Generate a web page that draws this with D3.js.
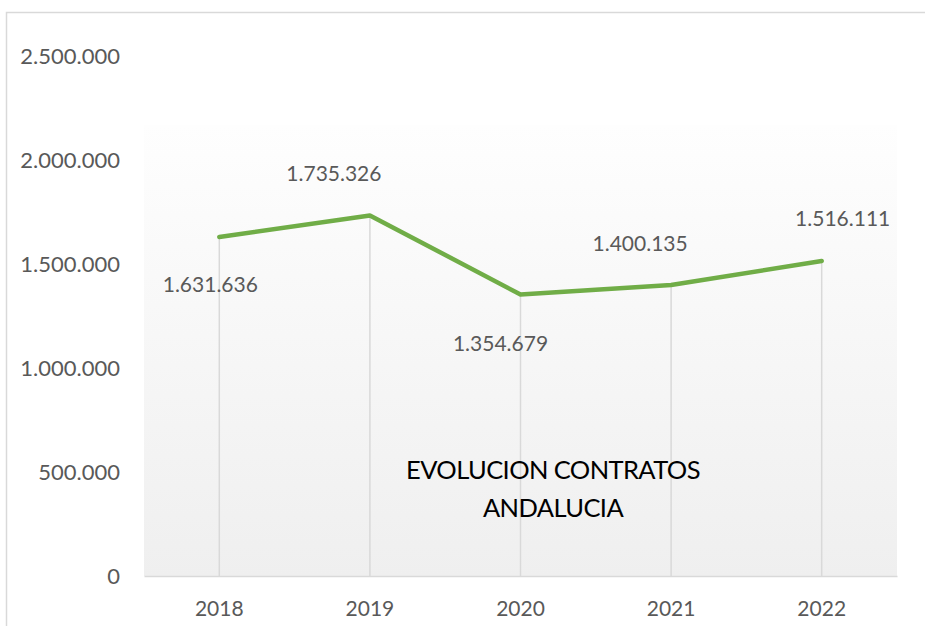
<!DOCTYPE html>
<html>
<head>
<meta charset="utf-8">
<script src="https://cdn.jsdelivr.net/npm/d3@7"></script>
<style>
  html, body { margin: 0; padding: 0; background: #ffffff; }
  svg { display: block; }
</style>
</head>
<body>
<svg id="chart" width="925" height="626"></svg>
<script>
// Contratos registrados en Andalucía por año
const years = ["2018", "2019", "2020", "2021", "2022"];
const contratos = [1631636, 1735326, 1354679, 1400135, 1516111];
const yTicks = [0, 500000, 1000000, 1500000, 2000000, 2500000];
const titleLines = ["EVOLUCION CONTRATOS", "ANDALUCIA"];

// Label placement around each point (dx, dy of the text baseline centre)
const labelOffsets = [[-9, 55], [-36, -34], [-20, 57], [-31, -34], [21, -35]];

const W = 925, H = 626;
const plot = { left: 144, right: 897, top: 125, bottom: 576 };
const FONT = "Lato, 'Open Sans', sans-serif";

const svg = d3.select("#chart");

// Number format with dots as thousands separators
const esLocale = d3.formatLocale({ decimal: ",", thousands: ".", grouping: [3], currency: ["", " €"] });
const fmt = esLocale.format(",d");

const x = d3.scaleBand().domain(years).range([plot.left, plot.right]);
const y = d3.scaleLinear().domain([0, 2500000]).range([plot.bottom, 56.5]);
const cx = d => x(d) + x.bandwidth() / 2;

// Chart frame
svg.append("rect")
  .attr("x", 6.5).attr("y", 12.5)
  .attr("width", W).attr("height", H)
  .attr("fill", "none").attr("stroke", "#d9d9d9").attr("stroke-width", 1.5);

// Plot area gradient fill
const defs = svg.append("defs");
const grad = defs.append("linearGradient").attr("id", "plotGrad")
  .attr("x1", 0).attr("y1", 0).attr("x2", 0).attr("y2", 1);
grad.append("stop").attr("offset", "0%").attr("stop-color", "#fefefe");
grad.append("stop").attr("offset", "100%").attr("stop-color", "#efefef");

svg.append("rect")
  .attr("x", plot.left).attr("y", plot.top)
  .attr("width", plot.right - plot.left).attr("height", plot.bottom - plot.top)
  .attr("fill", "url(#plotGrad)");

// Y axis (labels only)
const yAxis = d3.axisLeft(y).tickValues(yTicks).tickFormat(v => fmt(v)).tickSize(0).tickPadding(0);
const gy = svg.append("g").attr("transform", "translate(120,0)").call(yAxis);
gy.select(".domain").remove();
gy.selectAll("text")
  .attr("font-family", FONT).attr("font-size", 22).attr("fill", "#595959");

// X axis baseline and year labels
const xAxis = d3.axisBottom(x).tickSize(0).tickPadding(0);
const gx = svg.append("g").attr("transform", `translate(0,${plot.bottom})`).call(xAxis);
gx.select(".domain").attr("stroke", "#d9d9d9").attr("stroke-width", 1.5);
gx.selectAll("text")
  .attr("font-family", FONT).attr("font-size", 21).attr("fill", "#595959")
  .attr("dy", null).attr("y", 40);

// Drop lines from each point to the baseline
svg.append("g").selectAll("line")
  .data(years)
  .join("line")
  .attr("x1", d => cx(d)).attr("x2", d => cx(d))
  .attr("y1", (d, i) => y(contratos[i])).attr("y2", plot.bottom)
  .attr("stroke", "#d9d9d9").attr("stroke-width", 1.5);

// Title inside the plot
svg.append("g").selectAll("text")
  .data(titleLines)
  .join("text")
  .attr("x", 553).attr("y", (d, i) => 479 + i * 38)
  .attr("text-anchor", "middle")
  .attr("font-family", FONT).attr("font-size", 25.5).attr("letter-spacing", -0.6)
  .attr("fill", "#000000")
  .text(d => d);

// Series line
const line = d3.line().x((d, i) => cx(years[i])).y(d => y(d));
svg.append("path")
  .datum(contratos)
  .attr("d", line)
  .attr("fill", "none").attr("stroke", "#70ad47").attr("stroke-width", 4.5)
  .attr("stroke-linejoin", "round").attr("stroke-linecap", "round");

// Data labels
svg.append("g").selectAll("text")
  .data(contratos)
  .join("text")
  .attr("x", (d, i) => cx(years[i]) + labelOffsets[i][0])
  .attr("y", (d, i) => y(d) + labelOffsets[i][1])
  .attr("text-anchor", "middle")
  .attr("font-family", FONT).attr("font-size", 21).attr("fill", "#595959")
  .text(d => fmt(d));
</script>
</body>
</html>
